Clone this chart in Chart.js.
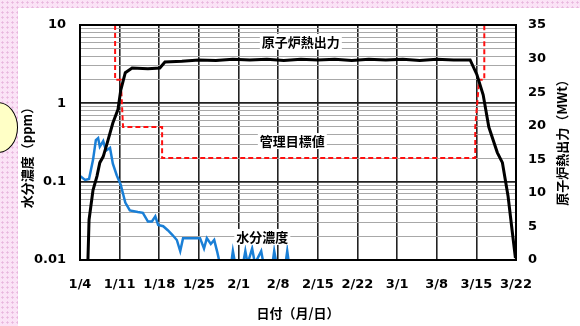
<!DOCTYPE html>
<html><head><meta charset="utf-8">
<script src="https://cdn.jsdelivr.net/npm/chart.js@4"></script>
<style>
html,body{margin:0;padding:0}
body{width:580px;height:326px;overflow:hidden;position:relative;background-color:#fbe3f6;background-image:radial-gradient(#e8b6dd 0.9px,transparent 1.3px);background-size:5px 5px}
#panel{position:absolute;left:18px;top:8px;right:0;bottom:0;background:#fff}
#dot{position:absolute;left:-22px;top:102px;width:38px;height:49px;border:1.5px solid #000;border-radius:50%;background:#ffffc6}
#c{position:absolute;left:0;top:0}
</style></head>
<body>
<div id="panel"></div>
<div id="dot"></div>
<canvas id="c" width="580" height="326"></canvas>
<script>
const dateLabels=["1/4","1/11","1/18","1/25","2/1","2/8","2/15","2/22","3/1","3/8","3/15","3/22"]

const ppmMajor=[0.01,0.1,1,10]
const ppmMinor=[0.02,0.03,0.04,0.05,0.06,0.07,0.08,0.09,0.2,0.3,0.4,0.5,0.6,0.7,0.8,0.9,2,3,4,5,6,7,8,9]

// reactor thermal output (MWt), x = days since 1/4
const powerDays=[1.4,1.6,2.3,3.0,3.5,4.1,4.8,5.8,6.7,7.2,8.0,9.2,12,14.1,15.0,18,21,24,27,30,33,36,39,42,45,48,51,54,57,60,63,66,68.9,70.1,71.2,72.2,73.7,74.6,75.6,76.3,76.9]
const powerMW=[0,6,10.4,12.5,14.5,15.4,17.4,20.4,22.4,25.3,27.9,28.6,28.5,28.6,29.5,29.6,29.8,29.7,29.9,29.8,29.9,29.7,29.9,29.8,29.9,29.7,29.9,29.8,29.9,29.7,29.9,29.8,29.8,27.6,24.6,19.8,16,14.5,9.5,4.5,0.3]

// control target (ppm)
const limitDays=[6.2,6.2,7.2,7.6,14.5,14.5,69.8,69.8,70.5,71.4,71.4]
const limitPpm=[10,2,2,0.5,0.5,0.2,0.2,0.5,2,2,10]

// water concentration (ppm)
const waterDays=[0,0.9,1.6,2.3,2.8,3.2,3.5,4.1,4.6,5.3,5.8,6.5,7.2,8.0,8.8,10.2,11.1,12.0,12.7,13.3,13.8,14.7,15.5,16.3,17.1,17.7,18.2,21.2,21.9,22.4,23.1,23.7,24.2,24.7,26.7,27.0,27.4,28.8,29.2,29.6,30.4,30.9,32.0,32.4,34.0,34.3,34.7,36.3,36.6,36.9]
const waterPpm=[0.118,0.105,0.108,0.19,0.34,0.36,0.28,0.33,0.25,0.27,0.17,0.12,0.091,0.054,0.043,0.041,0.04,0.031,0.031,0.036,0.028,0.027,0.024,0.021,0.018,0.013,0.019,0.019,0.014,0.019,0.016,0.018,0.013,0.009,0.009,0.013,0.009,0.009,0.013,0.009,0.014,0.009,0.013,0.009,0.009,0.013,0.009,0.009,0.013,0.009]

const pts=(xs,ys)=>xs.map((d,i)=>({x:d,y:ys[i]}))
const isMajor=v=>ppmMajor.some(m=>Math.abs(m-v)/m<1e-6)

const jp="'Noto Sans CJK JP', sans-serif"
const tickFont={family:"'DejaVu Sans', sans-serif",size:13,weight:"bold"}
const titleFont={family:jp,size:13,weight:"bold"}

const notes=[
{text:"原子炉熱出力",x:39,y:32.5,axis:"y2"},
{text:"管理目標値",x:37.5,y:0.33,axis:"y"},
{text:"水分濃度",x:32.2,y:0.0197,axis:"y"}
]

// side titles, both read bottom to top
const sideTitles=[
{text:"水分濃度（ppm）",x:27,dy:12},
{text:"原子炉熱出力（MWt）",x:562,dy:-3}
]

const notePlugin={
id:"notes",
afterDatasetsDraw(chart){
const ctx=chart.ctx
const a=chart.chartArea
ctx.save()
ctx.font="bold 13px "+jp
ctx.textAlign="center"
ctx.textBaseline="middle"
notes.forEach(n=>{
const px=chart.scales.x.getPixelForValue(n.x)
const py=chart.scales[n.axis].getPixelForValue(n.y)
const w=ctx.measureText(n.text).width
ctx.fillStyle="#fff"
ctx.fillRect(px-w/2-2,py-8,w+4,16)
ctx.fillStyle="#000"
ctx.fillText(n.text,px,py)
})
sideTitles.forEach(t=>{
ctx.save()
ctx.translate(t.x,(a.top+a.bottom)/2+t.dy)
ctx.rotate(-Math.PI/2)
ctx.fillStyle="#000"
ctx.fillText(t.text,0,0)
ctx.restore()
})
ctx.strokeStyle="#000"
ctx.lineWidth=2
ctx.strokeRect(a.left,a.top,a.right-a.left,a.bottom-a.top)
ctx.restore()
}
}

new Chart(document.getElementById("c"),{
type:"line",
data:{datasets:[
{label:"原子炉熱出力",data:pts(powerDays,powerMW),yAxisID:"y2",borderColor:"#000",borderWidth:3,pointRadius:0,tension:0},
{label:"管理目標値",data:pts(limitDays,limitPpm),yAxisID:"y",borderColor:"#ff1010",borderWidth:2,borderDash:[5,3],pointRadius:0,tension:0},
{label:"水分濃度",data:pts(waterDays,waterPpm),yAxisID:"y",borderColor:"#1a7fd6",borderWidth:2.5,pointRadius:0,tension:0}
]},
options:{
responsive:false,
animation:false,
devicePixelRatio:1,
layout:{padding:{top:25,left:0,right:0,bottom:0}},
plugins:{legend:{display:false},tooltip:{enabled:false}},
scales:{
x:{
type:"linear",min:0,max:77,
grid:{color:"#222",lineWidth:1.6,drawTicks:false},
border:{display:false},
ticks:{stepSize:7,autoSkip:false,maxRotation:0,padding:17,font:tickFont,color:"#000",
callback:(v,i)=>dateLabels[i]},
title:{display:true,text:"日付（月/日）",font:titleFont,color:"#000",padding:{top:0,bottom:5}},
afterFit(s){s.height=66;s.paddingLeft=0;s.paddingRight=0}
},
y:{
type:"logarithmic",position:"left",min:0.01,max:10,
afterBuildTicks(s){s.ticks=[...ppmMajor,...ppmMinor].sort((a,b)=>a-b).map(v=>({value:v}))},
grid:{drawTicks:false,color:c=>isMajor(c.tick.value)?"#222":"#a8a8a8",lineWidth:c=>isMajor(c.tick.value)?1.8:1},
border:{display:false},
ticks:{autoSkip:false,padding:14,font:tickFont,color:"#000",
callback:v=>isMajor(v)?String(v):""},
afterFit(s){s.width=80;s.paddingTop=0;s.paddingBottom=0}
},
y2:{
type:"linear",position:"right",min:0,max:35,
grid:{drawOnChartArea:false,drawTicks:false},
border:{display:false},
ticks:{stepSize:5,padding:12,font:tickFont,color:"#000"},
afterFit(s){s.width=64;s.paddingTop=0;s.paddingBottom=0}
}
}
},
plugins:[notePlugin]
})
</script>
</body></html>
